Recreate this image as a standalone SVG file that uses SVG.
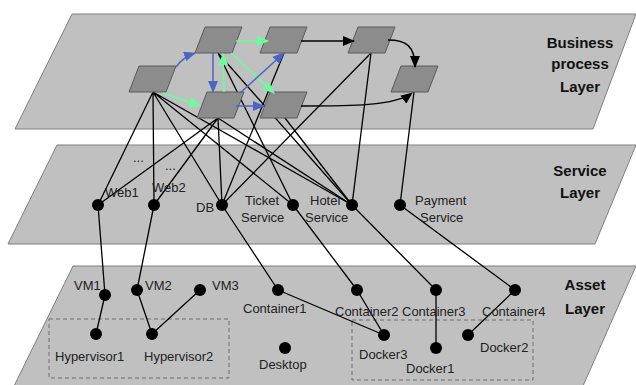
<svg xmlns="http://www.w3.org/2000/svg" width="636" height="385" viewBox="0 0 636 385">
<style>
.layer{fill:#c0c0c0;stroke:#7f7f7f;stroke-width:1}
.bp{fill:#8c8c8c;stroke:#5a5a5a;stroke-width:1}
.dot{fill:#000}
.ln{stroke:#000;stroke-width:1.3;fill:none}
.bl{stroke:#4a66c2;stroke-width:1.5;fill:none}
.gr{stroke:#66ff99;stroke-width:1.5;fill:none}
.bk{stroke:#000;stroke-width:1.5;fill:none}
.lbl{font-family:"Liberation Sans",Arial,sans-serif;font-size:13px;fill:#222}
.ttl{font-family:"Liberation Sans",Arial,sans-serif;font-size:15px;font-weight:bold;fill:#111;text-anchor:middle}
.box{fill:none;stroke:#6f6f6f;stroke-width:1;stroke-dasharray:4,3}
</style>
<defs>
<marker id="ab" markerUnits="userSpaceOnUse" markerWidth="12" markerHeight="10" refX="11" refY="5" orient="auto"><path d="M0,0L12,5L0,10z" fill="#4a66c2"/></marker>
<marker id="ag" markerUnits="userSpaceOnUse" markerWidth="12" markerHeight="10" refX="11" refY="5" orient="auto"><path d="M0,0L12,5L0,10z" fill="#66ff99"/></marker>
<marker id="ak" markerUnits="userSpaceOnUse" markerWidth="12" markerHeight="10" refX="11" refY="5" orient="auto"><path d="M0,0L12,5L0,10z" fill="#000"/></marker>
</defs>
<rect width="636" height="385" fill="#fff"/>
<g id="layers">
<polygon id="business-layer" class="layer" points="72,14 636,14 593,129 15,129"/>
<polygon id="service-layer" class="layer" points="57,145 636,145 595,244 8,244"/>
<polygon id="asset-layer" class="layer" points="73,266 636,266 583,386 14,386"/>
<text class="ttl" x="580" y="48">Business</text>
<text class="ttl" x="580" y="69">process</text>
<text class="ttl" x="580" y="92">Layer</text>
<text class="ttl" x="580" y="176">Service</text>
<text class="ttl" x="580" y="198">Layer</text>
<text class="ttl" x="585" y="290">Asset</text>
<text class="ttl" x="585" y="314">Layer</text>
<rect class="box" x="49" y="319" width="180" height="59"/>
<rect class="box" x="352" y="320" width="181" height="60"/>
</g>
<g id="connectors">
<path class="ln" d="M153,92L98,205M153,92L154,205M153,92L222,205M153,92L293,205M153,92L352,205"/>
<path class="ln" d="M218,118L98,205M218,118L154,205M218,118L222,205M218,118L352,205"/>
<path class="ln" d="M218,53L293,205M218,53L352,205"/>
<path class="ln" d="M284,53L222,205M285,118L352,205M371,53L222,205M371,53L352,205M414,92L400,205"/>
<path class="ln" d="M98,205L105,295M154,205L137,290M222,205L278,290M293,205L357,290M352,205L436,290M400,205L515,290"/>
<path class="ln" d="M105,295L96,334M137,290L152,334M200,290L152,334M278,290L384,335M357,290L384,335M436,290L436,348M515,290L468,335"/>
</g>
<g id="bp-nodes">
<polygon id="A" class="bp" points="139,66 176,66 166,92 129,92"/>
<polygon id="B" class="bp" points="205,27 242,27 232,53 195,53"/>
<polygon id="C" class="bp" points="207,92 244,92 234,118 197,118"/>
<polygon id="D" class="bp" points="270,27 307,27 297,53 260,53"/>
<polygon id="E" class="bp" points="270,92 307,92 297,118 260,118"/>
<polygon id="F" class="bp" points="358,27 395,27 385,53 348,53"/>
<polygon id="G" class="bp" points="401,66 438,66 428,92 391,92"/>
</g>
<g id="flow-arrows">
<path class="bl" d="M176,67Q183,57 195,53" marker-end="url(#ab)"/>
<path class="gr" d="M163,93L200,106" marker-end="url(#ag)"/>
<path class="bl" d="M213,53L213,92" marker-end="url(#ab)"/>
<path class="gr" d="M224,92L223,54" marker-end="url(#ag)"/>
<path class="gr" d="M236,41L268,41" marker-end="url(#ag)"/>
<path class="gr" d="M231,53L274,93" marker-end="url(#ag)"/>
<path class="bl" d="M240,93L284,53" marker-end="url(#ab)"/>
<path class="bl" d="M236,106L264,106" marker-end="url(#ab)"/>
<path class="bk" d="M301,41L354,41" marker-end="url(#ak)"/>
<path class="bk" d="M388,40C406,40 415,46 415,67" marker-end="url(#ak)"/>
<path class="bk" d="M301,106C350,106 395,106 412,93" marker-end="url(#ak)"/>
</g>
<g id="service-nodes">
<g id="web1"><circle class="dot" cx="98" cy="205" r="6"/><text class="lbl" x="105" y="197">Web1</text></g>
<g id="web2"><circle class="dot" cx="154" cy="205" r="6"/><text class="lbl" x="152" y="192">Web2</text></g>
<text class="lbl" x="133" y="162">...</text>
<text class="lbl" x="165" y="170">...</text>
<g id="db"><circle class="dot" cx="222" cy="205" r="6"/><text class="lbl" x="196" y="212">DB</text></g>
<g id="ticket"><circle class="dot" cx="293" cy="205" r="6"/><text class="lbl" x="245" y="205">Ticket</text><text class="lbl" x="241" y="222">Service</text></g>
<g id="hotel"><circle class="dot" cx="352" cy="205" r="6"/><text class="lbl" x="310" y="205">Hotel</text><text class="lbl" x="305" y="222">Service</text></g>
<g id="payment"><circle class="dot" cx="400" cy="205" r="6"/><text class="lbl" x="415" y="205">Payment</text><text class="lbl" x="420" y="222">Service</text></g>
</g>
<g id="asset-nodes">
<g id="vm1"><circle class="dot" cx="105" cy="295" r="6"/><text class="lbl" x="74" y="290">VM1</text></g>
<g id="vm2"><circle class="dot" cx="137" cy="290" r="6"/><text class="lbl" x="145" y="290">VM2</text></g>
<g id="vm3"><circle class="dot" cx="200" cy="290" r="6"/><text class="lbl" x="212" y="290">VM3</text></g>
<g id="hyp1"><circle class="dot" cx="96" cy="334" r="6"/><text class="lbl" x="55" y="361">Hypervisor1</text></g>
<g id="hyp2"><circle class="dot" cx="152" cy="334" r="6"/><text class="lbl" x="144" y="361">Hypervisor2</text></g>
<g id="c1"><circle class="dot" cx="278" cy="290" r="6"/><text class="lbl" x="243" y="313">Container1</text></g>
<g id="desktop"><circle class="dot" cx="285" cy="348" r="6"/><text class="lbl" x="259" y="369">Desktop</text></g>
<g id="c2"><circle class="dot" cx="357" cy="290" r="6"/><text class="lbl" x="335" y="316">Container2</text></g>
<g id="c3"><circle class="dot" cx="436" cy="290" r="6"/><text class="lbl" x="402" y="316">Container3</text></g>
<g id="c4"><circle class="dot" cx="515" cy="290" r="6"/><text class="lbl" x="482" y="316">Container4</text></g>
<g id="d3"><circle class="dot" cx="384" cy="335" r="6"/><text class="lbl" x="359" y="359">Docker3</text></g>
<g id="d1"><circle class="dot" cx="436" cy="348" r="6"/><text class="lbl" x="406" y="373">Docker1</text></g>
<g id="d2"><circle class="dot" cx="468" cy="335" r="6"/><text class="lbl" x="480" y="352">Docker2</text></g>
</g>
</svg>
